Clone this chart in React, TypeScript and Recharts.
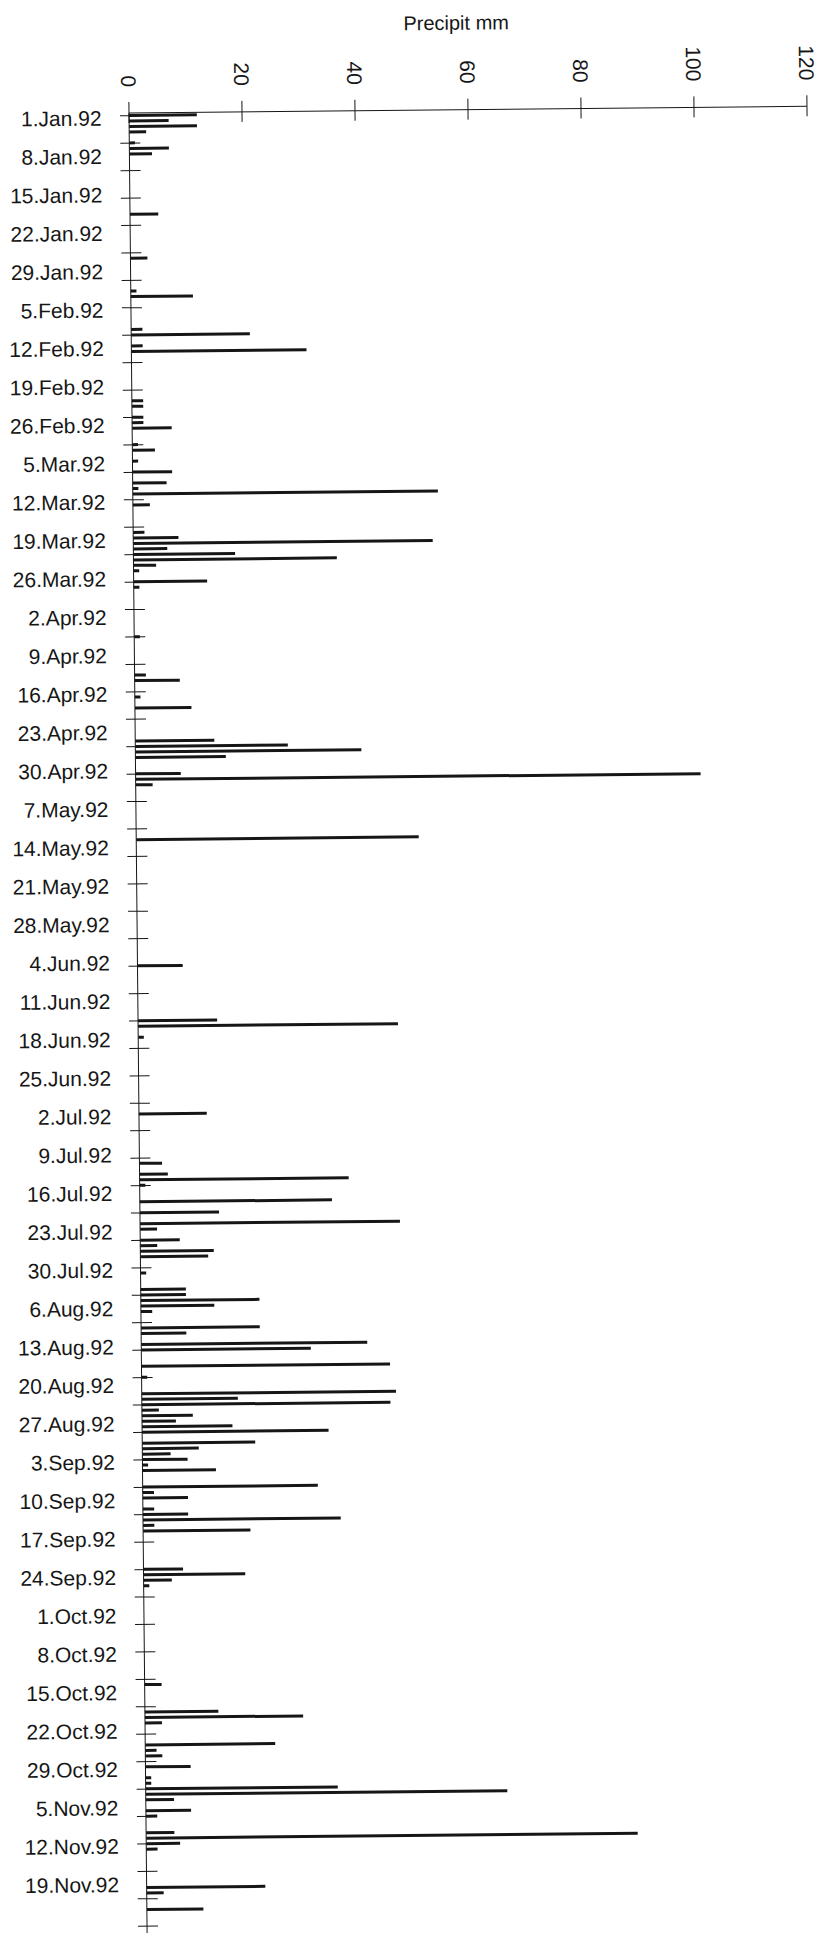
import React from "react";
import { BarChart, Bar, XAxis, YAxis } from "recharts";

// Daily precipitation (mm), one value per day starting 1.Jan.92
const PRECIP_MM: number[] = [
  12, 7, 12, 3, 0, 1, 7, 4, 0, 0,
  0, 0, 0, 0, 0, 0, 0, 0, 5, 0,
  0, 0, 0, 0, 0, 0, 3, 0, 0, 0,
  0, 0, 1, 11, 0, 0, 0, 0, 0, 2,
  21, 0, 2, 31, 0, 0, 0, 0, 0, 0,
  0, 0, 2, 2, 0, 2, 2, 7, 0, 0,
  1, 4, 0, 1, 0, 7, 0, 6, 1, 54,
  0, 3, 0, 0, 0, 0, 2, 8, 53, 6,
  18, 36, 4, 1, 0, 13, 1, 0, 0, 0,
  0, 0, 0, 0, 0, 1, 0, 0, 0, 0,
  0, 0, 2, 8, 0, 0, 1, 0, 10, 0,
  0, 0, 0, 0, 14, 27, 40, 16, 0, 0,
  8, 100, 3, 0, 0, 0, 0, 0, 0, 0,
  0, 0, 50, 0, 0, 0, 0, 0, 0, 0,
  0, 0, 0, 0, 0, 0, 0, 0, 0, 0,
  0, 0, 0, 0, 0, 8, 0, 0, 0, 0,
  0, 0, 0, 0, 0, 14, 46, 0, 1, 0,
  0, 0, 0, 0, 0, 0, 0, 0, 0, 0,
  0, 0, 12, 0, 0, 0, 0, 0, 0, 0,
  0, 4, 0, 5, 37, 1, 0, 0, 34, 0,
  14, 0, 46, 3, 0, 7, 3, 13, 12, 0,
  0, 1, 0, 0, 8, 8, 21, 13, 2, 0,
  0, 21, 8, 0, 40, 30, 0, 0, 44, 0,
  1, 0, 0, 45, 17, 44, 3, 9, 6, 16,
  33, 0, 20, 10, 5, 8, 1, 13, 0, 0,
  31, 2, 8, 0, 2, 8, 35, 2, 19, 0,
  0, 0, 0, 0, 0, 7, 18, 5, 1, 0,
  0, 0, 0, 0, 0, 0, 0, 0, 0, 0,
  0, 0, 0, 0, 0, 0, 3, 0, 0, 0,
  0, 13, 28, 3, 0, 0, 0, 23, 2, 3,
  0, 8, 0, 1, 1, 34, 64, 5, 0, 8,
  2, 0, 0, 5, 87, 6, 2, 0, 0, 0,
  0, 0, 0, 21, 3, 0, 0, 10, 0, 0,
  0, 0, 0,
];

// Weekly date labels (every 7th day)
const DATE_LABELS: string[] = [
  "1.Jan.92", "8.Jan.92", "15.Jan.92", "22.Jan.92", "29.Jan.92",
  "5.Feb.92", "12.Feb.92", "19.Feb.92", "26.Feb.92",
  "5.Mar.92", "12.Mar.92", "19.Mar.92", "26.Mar.92",
  "2.Apr.92", "9.Apr.92", "16.Apr.92", "23.Apr.92", "30.Apr.92",
  "7.May.92", "14.May.92", "21.May.92", "28.May.92",
  "4.Jun.92", "11.Jun.92", "18.Jun.92", "25.Jun.92",
  "2.Jul.92", "9.Jul.92", "16.Jul.92", "23.Jul.92", "30.Jul.92",
  "6.Aug.92", "13.Aug.92", "20.Aug.92", "27.Aug.92",
  "3.Sep.92", "10.Sep.92", "17.Sep.92", "24.Sep.92",
  "1.Oct.92", "8.Oct.92", "15.Oct.92", "22.Oct.92", "29.Oct.92",
  "5.Nov.92", "12.Nov.92", "19.Nov.92",
];

const VALUE_TICKS: number[] = [0, 20, 40, 60, 80, 100, 120];
const MINOR_EVERY = 5;
const LABEL_EVERY = 7;
const TITLE = "Precipit mm";

const FONT = "'Liberation Sans', Arial, Helvetica, sans-serif";
const INK = "#161616";

const data = PRECIP_MM.map((mm, day) => ({ day, mm }));

const DateTick = (props: any) => {
  const { x, y, payload } = props;
  const i = Number(payload.value);
  const label = i % LABEL_EVERY === 0 ? DATE_LABELS[i / LABEL_EVERY] : undefined;
  return (
    <g>
      {i % MINOR_EVERY === 0 && (
        <line x1={x - 9} x2={x + 11} y1={y} y2={y} stroke={INK} strokeWidth={1} />
      )}
      {label && (
        <text
          x={x - 27.5}
          y={y + 2}
          dy="0.36em"
          textAnchor="end"
          fontSize={21}
          fontFamily={FONT}
          fill={INK}
        >
          {label}
        </text>
      )}
    </g>
  );
};

const ValueTick = (props: any) => {
  const { x, y, payload } = props;
  const ty = y - 26;
  return (
    <g>
      <line x1={x} x2={x} y1={y - 11} y2={y + 10} stroke={INK} strokeWidth={1} />
      <text
        x={x}
        y={ty}
        dy="0.36em"
        textAnchor="end"
        transform={`rotate(90, ${x}, ${ty})`}
        fontSize={21}
        fontFamily={FONT}
        fill={INK}
      >
        {payload.value}
      </text>
    </g>
  );
};

export default function App() {
  return (
    <div
      style={{
        position: "absolute",
        left: 0,
        top: 0,
        width: 823,
        height: 1933,
        overflow: "hidden",
        background: "#fff",
      }}
    >
      <div
        style={{
          position: "absolute",
          left: 0,
          top: 0,
          width: 823,
          height: 1940,
          transform: "rotate(-0.57deg)",
          transformOrigin: "129px 113px",
        }}
      >
        <div
          style={{
            position: "absolute",
            left: 357,
            top: 14,
            width: 200,
            textAlign: "center",
            fontFamily: FONT,
            fontSize: 20,
            lineHeight: "24px",
            color: INK,
          }}
        >
          {TITLE}
        </div>
        <BarChart
          width={823}
          height={1940}
          data={data}
          layout="vertical"
          margin={{ top: 0, right: 16, bottom: 0, left: 0 }}
        >
          <XAxis
            type="number"
            orientation="top"
            domain={[0, 120]}
            ticks={VALUE_TICKS}
            height={113}
            tickSize={0}
            tickMargin={0}
            tickLine={false}
            axisLine={{ stroke: INK, strokeWidth: 1 }}
            tick={<ValueTick />}
            interval={0}
          />
          <YAxis
            type="category"
            dataKey="day"
            width={129}
            tickSize={0}
            tickMargin={0}
            tickLine={false}
            axisLine={{ stroke: INK, strokeWidth: 1 }}
            tick={<DateTick />}
            interval={0}
          />
          <Bar dataKey="mm" fill={INK} barSize={3} isAnimationActive={false} />
        </BarChart>
      </div>
    </div>
  );
}
